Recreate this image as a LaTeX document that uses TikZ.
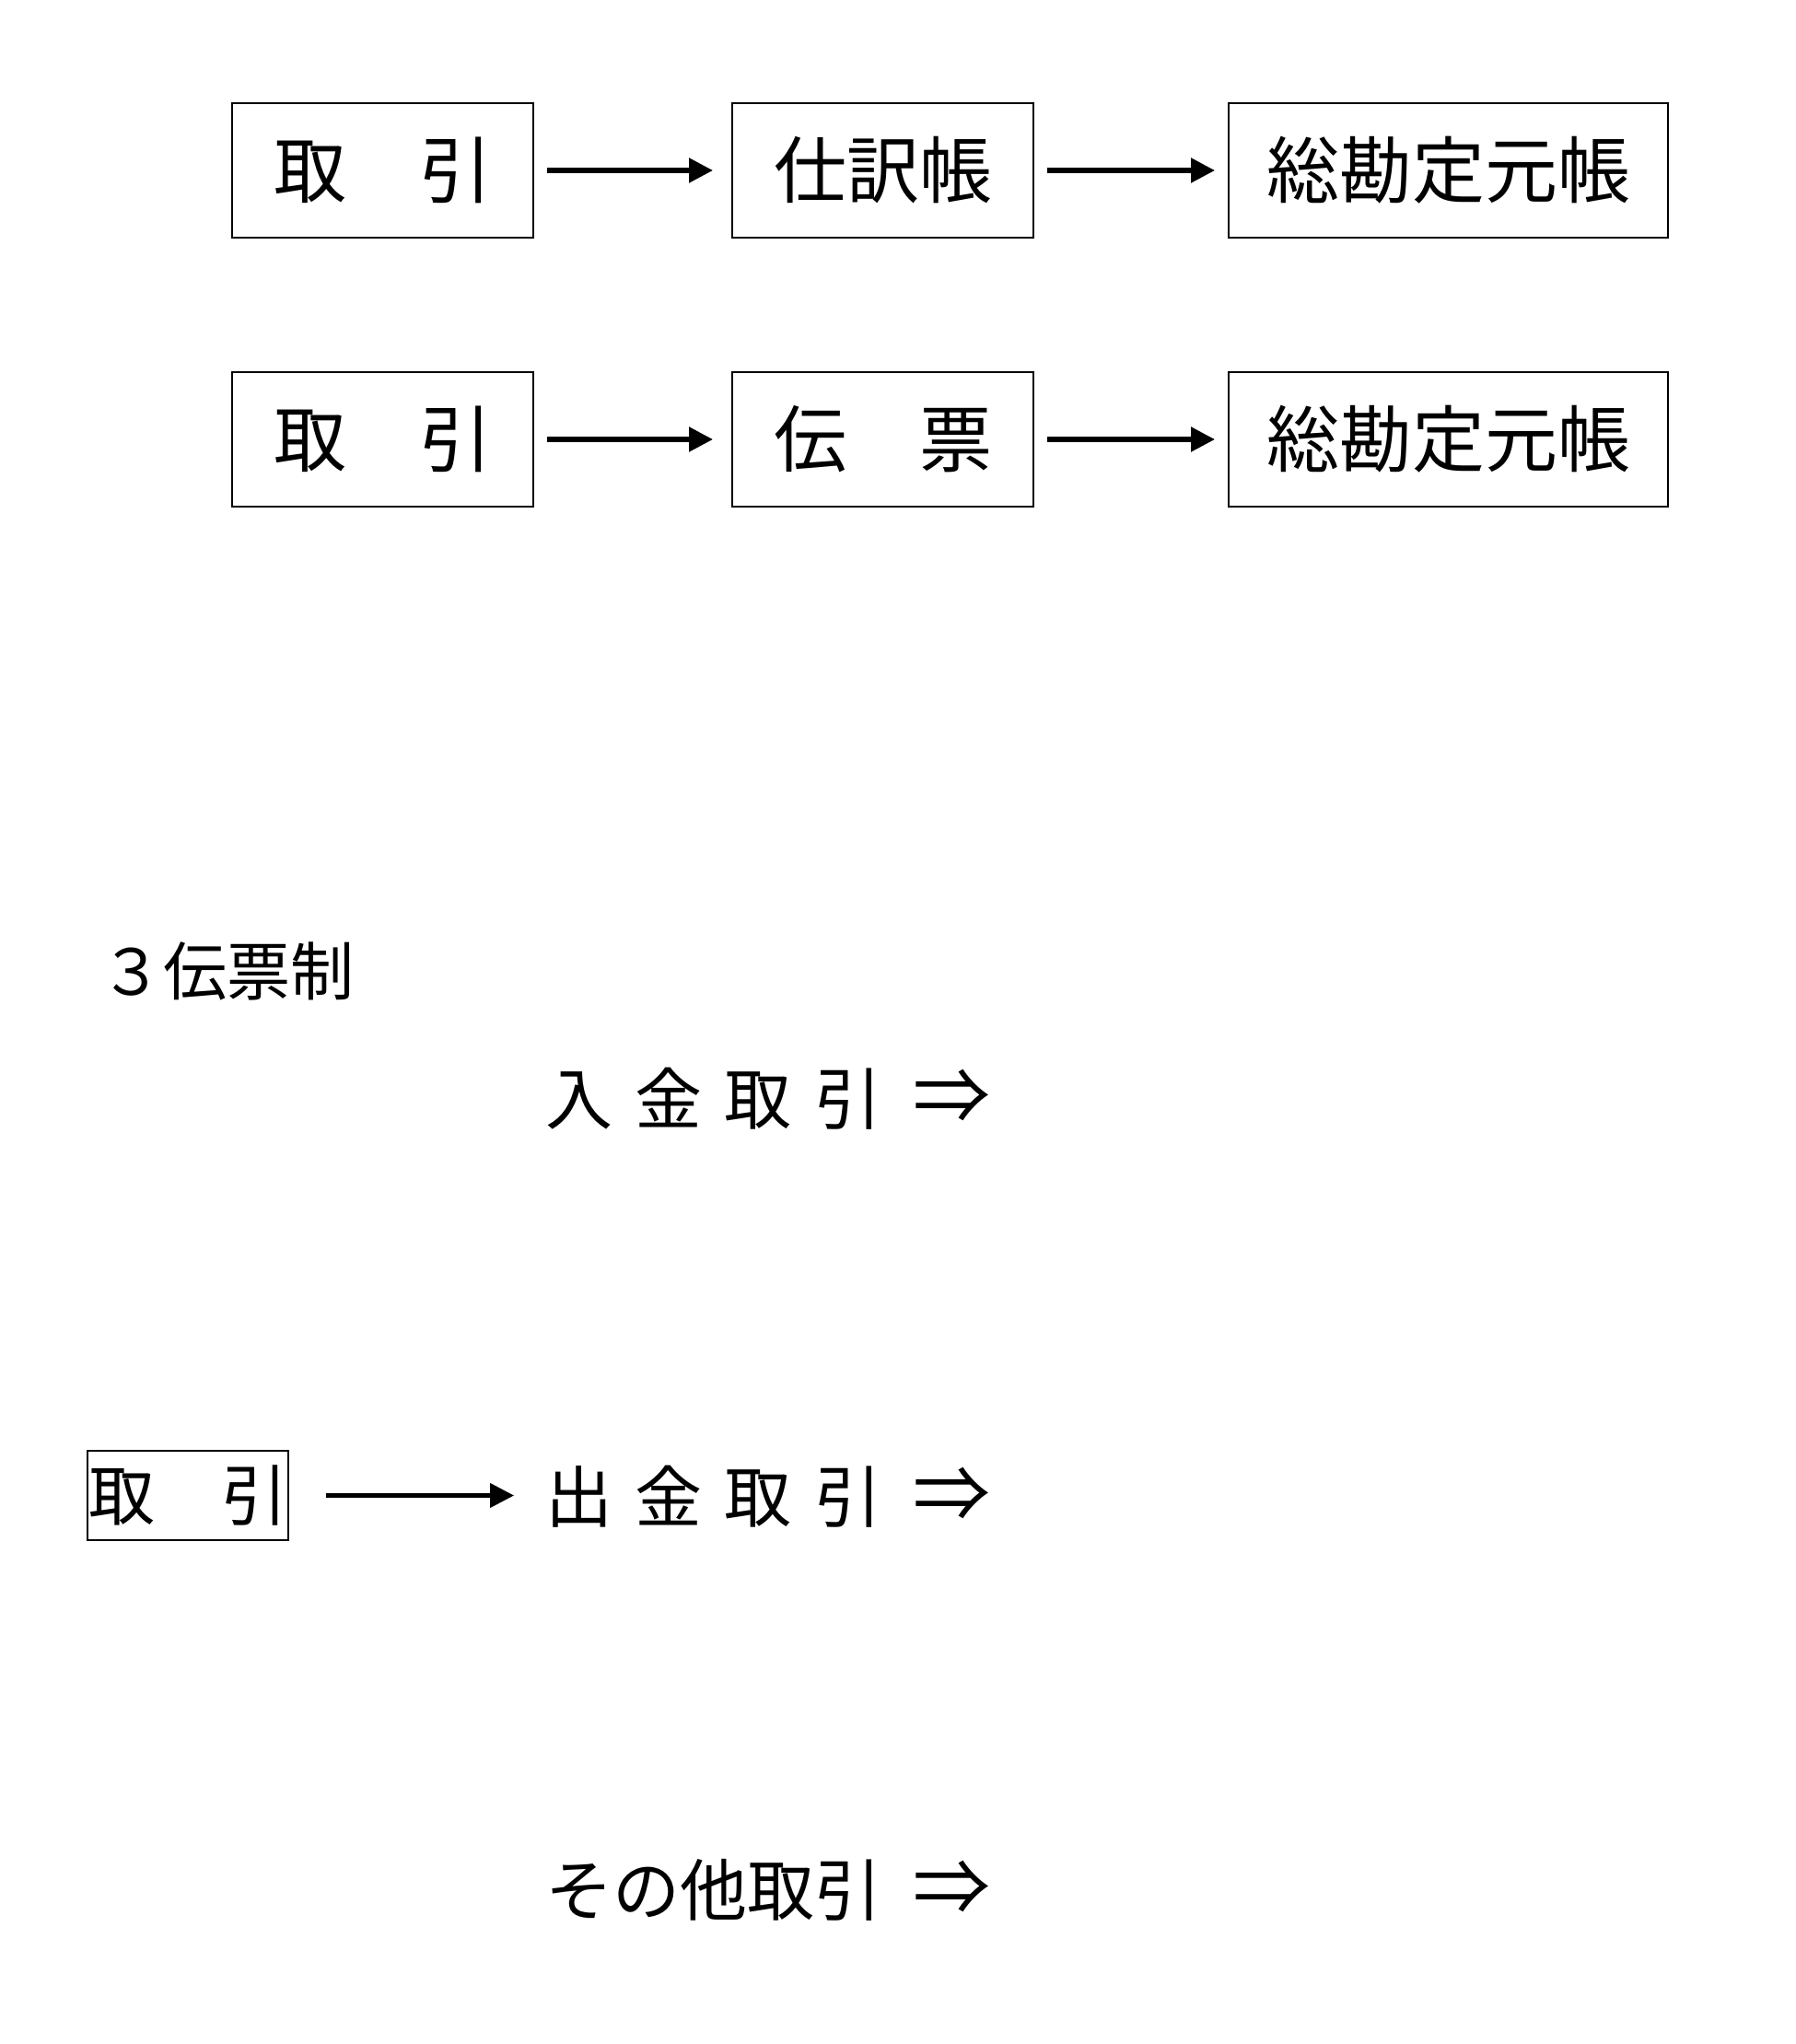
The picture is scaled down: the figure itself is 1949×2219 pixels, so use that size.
\documentclass[tikz,border=0pt]{standalone}
\usepackage{fontspec}
\setmainfont{Noto Sans CJK JP}
\usetikzlibrary{arrows.meta,positioning}
\newcommand\slipspace{\spaceskip=0.333em\relax}
\newcommand\slipto{\hspace{17pt}{\fontsize{42}{42}\selectfont ⇒}}

\begin{document}
\begin{tikzpicture}[
  x=0.5pt, y=-0.5pt,
  box/.style={draw, line width=1pt, inner sep=0pt, minimum height=73pt,
    minimum width=163.5pt, font=\fontsize{39.5}{40}\selectfont},
  wide/.style={box, minimum width=238.5pt},
  arr/.style={-{Triangle[length=13pt, width=13pt]}, line width=2.6pt},
  slip/.style={anchor=west, inner sep=0pt, font=\fontsize{36.5}{37}\selectfont,
    execute at begin node=\slipspace},
  hdr/.style={anchor=west, inner sep=0pt, font=\fontsize{34.5}{35}\selectfont}
]
\useasboundingbox (0,0) rectangle (1949,2219);

% ── journal flow ─────────────────────────────────────────────────────────
\node[box] (trA) at (415.5,185) {取　引};
\node[box, right=107pt of trA] (jnl) {仕訳帳};
\node[wide, right=105pt of jnl] (ledA) {総勘定元帳};
\draw[arr, shorten <=7pt, shorten >=10pt] (trA) -- (jnl);
\draw[arr, shorten <=7pt, shorten >=7pt] (jnl) -- (ledA);

% ── slip flow ────────────────────────────────────────────────────────────
\node[box, below=72pt of trA] (trB) {取　引};
\node[box, below=72pt of jnl] (slp) {伝　票};
\node[wide, below=72pt of ledA] (ledB) {総勘定元帳};
\draw[arr, shorten <=7pt, shorten >=10pt] (trB) -- (slp);
\draw[arr, shorten <=7pt, shorten >=7pt] (slp) -- (ledB);

% ── three-slip system ────────────────────────────────────────────────────
\node[hdr] (title) at (108,1054) {３伝票制};
\node[slip] (inc) at (592,1193) {入 金 取 引\slipto};
\node[slip] (pay) at (592,1625) {出 金 取 引\slipto};
\node[slip] (oth) at (592,2052) {その他取引\slipto};
\node[draw, line width=0.8pt, inner sep=0pt, minimum width=109pt, minimum height=48.5pt,
  font=\fontsize{36}{36}\selectfont] (trC) at (204,1623.5) {取　引};
\draw[arr, line width=2.2pt, shorten <=20pt, shorten >=17pt] (trC) -- (pay.west |- trC);

\end{tikzpicture}
\end{document}
